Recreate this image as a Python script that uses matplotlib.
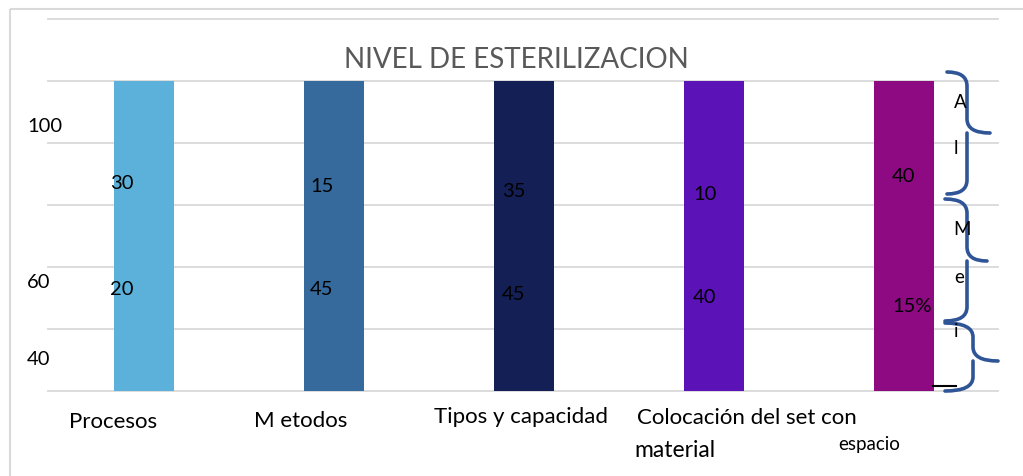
import matplotlib.pyplot as plt
from matplotlib.path import Path
from matplotlib.patches import PathPatch, Rectangle

# datos del grafico
categorias = ['Procesos', 'M etodos', 'Tipos y capacidad', 'Colocación del set con', 'espacio']
altura_barra = [100, 100, 100, 100, 100]
valor_arriba = ['30', '15', '35', '10', '40']
valor_abajo = ['20', '45', '45', '40', '15%']
etiquetas_y = ['100', '60', '40']
letras_lado = ['A', 'l', 'M', 'e', 'i']
colores = ['#5BB1DA', '#376A9C', '#131F55', '#5B12B7', '#8E0A82']

# posiciones (en pixeles de la figura) de los textos sueltos
pos_arriba = [(110, 184), (310, 187), (502, 192), (693, 195), (892, 177)]
pos_abajo = [(110, 290), (310, 290), (502, 295), (693, 298), (892, 307)]
pos_y = [127, 283, 360]
pos_cat = [(113, 422), (301, 421), (521, 417), (747, 418), (869, 445)]
pos_letras = [(960, 103), (956, 149), (962, 230), (959, 278), (956, 332)]

W, H = 1023, 477
fuente = ['Lato', 'DejaVu Sans']
plt.rcParams['font.family'] = fuente

fig = plt.figure(figsize=(W / 100, H / 100), dpi=100)
ax = fig.add_axes([48 / W, (H - 392) / H, 950 / W, 372 / H])
ax.set_xlim(-0.505, 4.495)
ax.set_ylim(0, 120)
ax.axis('off')

for g in range(0, 121, 20):
    ax.axhline(g, color='#D9D9D9', lw=1.3, zorder=0, clip_on=False)

ax.bar(range(len(categorias)), altura_barra, width=60 / 190, color=colores, zorder=2)

# capa en pixeles para textos y llaves
ov = fig.add_axes([0, 0, 1, 1], zorder=5)
ov.set_xlim(0, W)
ov.set_ylim(H, 0)
ov.axis('off')
ov.patch.set_alpha(0)

ov.add_patch(Rectangle((10, 10), 1100, 600, fill=False, ec='#D9D9D9', lw=1.5))

ov.text(516, 60, 'NIVEL DE ESTERILIZACION', ha='center', va='center',
        fontsize=20, color='#595959', family=['Liberation Sans Narrow', 'Lato'])

for (x, y), t in zip(pos_arriba, valor_arriba):
    ov.text(x, y, t, ha='left', va='center', fontsize=14.5, color='black')
for (x, y), t in zip(pos_abajo, valor_abajo):
    ov.text(x, y, t, ha='left', va='center', fontsize=14.5, color='black')
for y, t in zip(pos_y, etiquetas_y):
    ov.text(27, y, t, ha='left', va='center', fontsize=14.5, color='black')

for (x, y), t in zip(pos_cat, categorias):
    ov.text(x, y, t, ha='center', va='center', fontsize=13.5 if t == 'espacio' else 16,
            color='black')
ov.text(634, 451, 'material', ha='left', va='center', fontsize=16.5, color='black')

for (x, y), t in zip(pos_letras, letras_lado):
    ov.text(x, y, t, ha='center', va='center', fontsize=13.5, color='black')


def llave(x0, xs, xt, y0, y1, yt):
    # llave "}" : extremos en x0, tallo en xs, punta en xt
    r = 14
    verts = [(x0, y0), (xs, y0), (xs, y0 + r), (xs, y0 + r),
             (xs, yt - r), (xs, yt), (xt, yt),
             (xs, yt), (xs, yt + r), (xs, yt + r),
             (xs, y1 - r), (xs, y1), (x0, y1)]
    codes = [Path.MOVETO, Path.CURVE3, Path.CURVE3, Path.LINETO,
             Path.LINETO, Path.CURVE3, Path.CURVE3,
             Path.MOVETO, Path.CURVE3, Path.CURVE3,
             Path.LINETO, Path.CURVE3, Path.CURVE3]
    ov.add_patch(PathPatch(Path(verts, codes), fill=False, ec='#2F5597', lw=2.6,
                           capstyle='round', joinstyle='round'))


llave(947, 967, 990, 73, 195, 134)
llave(945, 967, 987, 200, 322, 262)
llave(945, 973, 998, 324, 392, 362)

ov.plot([933, 956], [387, 387], color='black', lw=1.5)

fig.savefig('out.png', dpi=100)
